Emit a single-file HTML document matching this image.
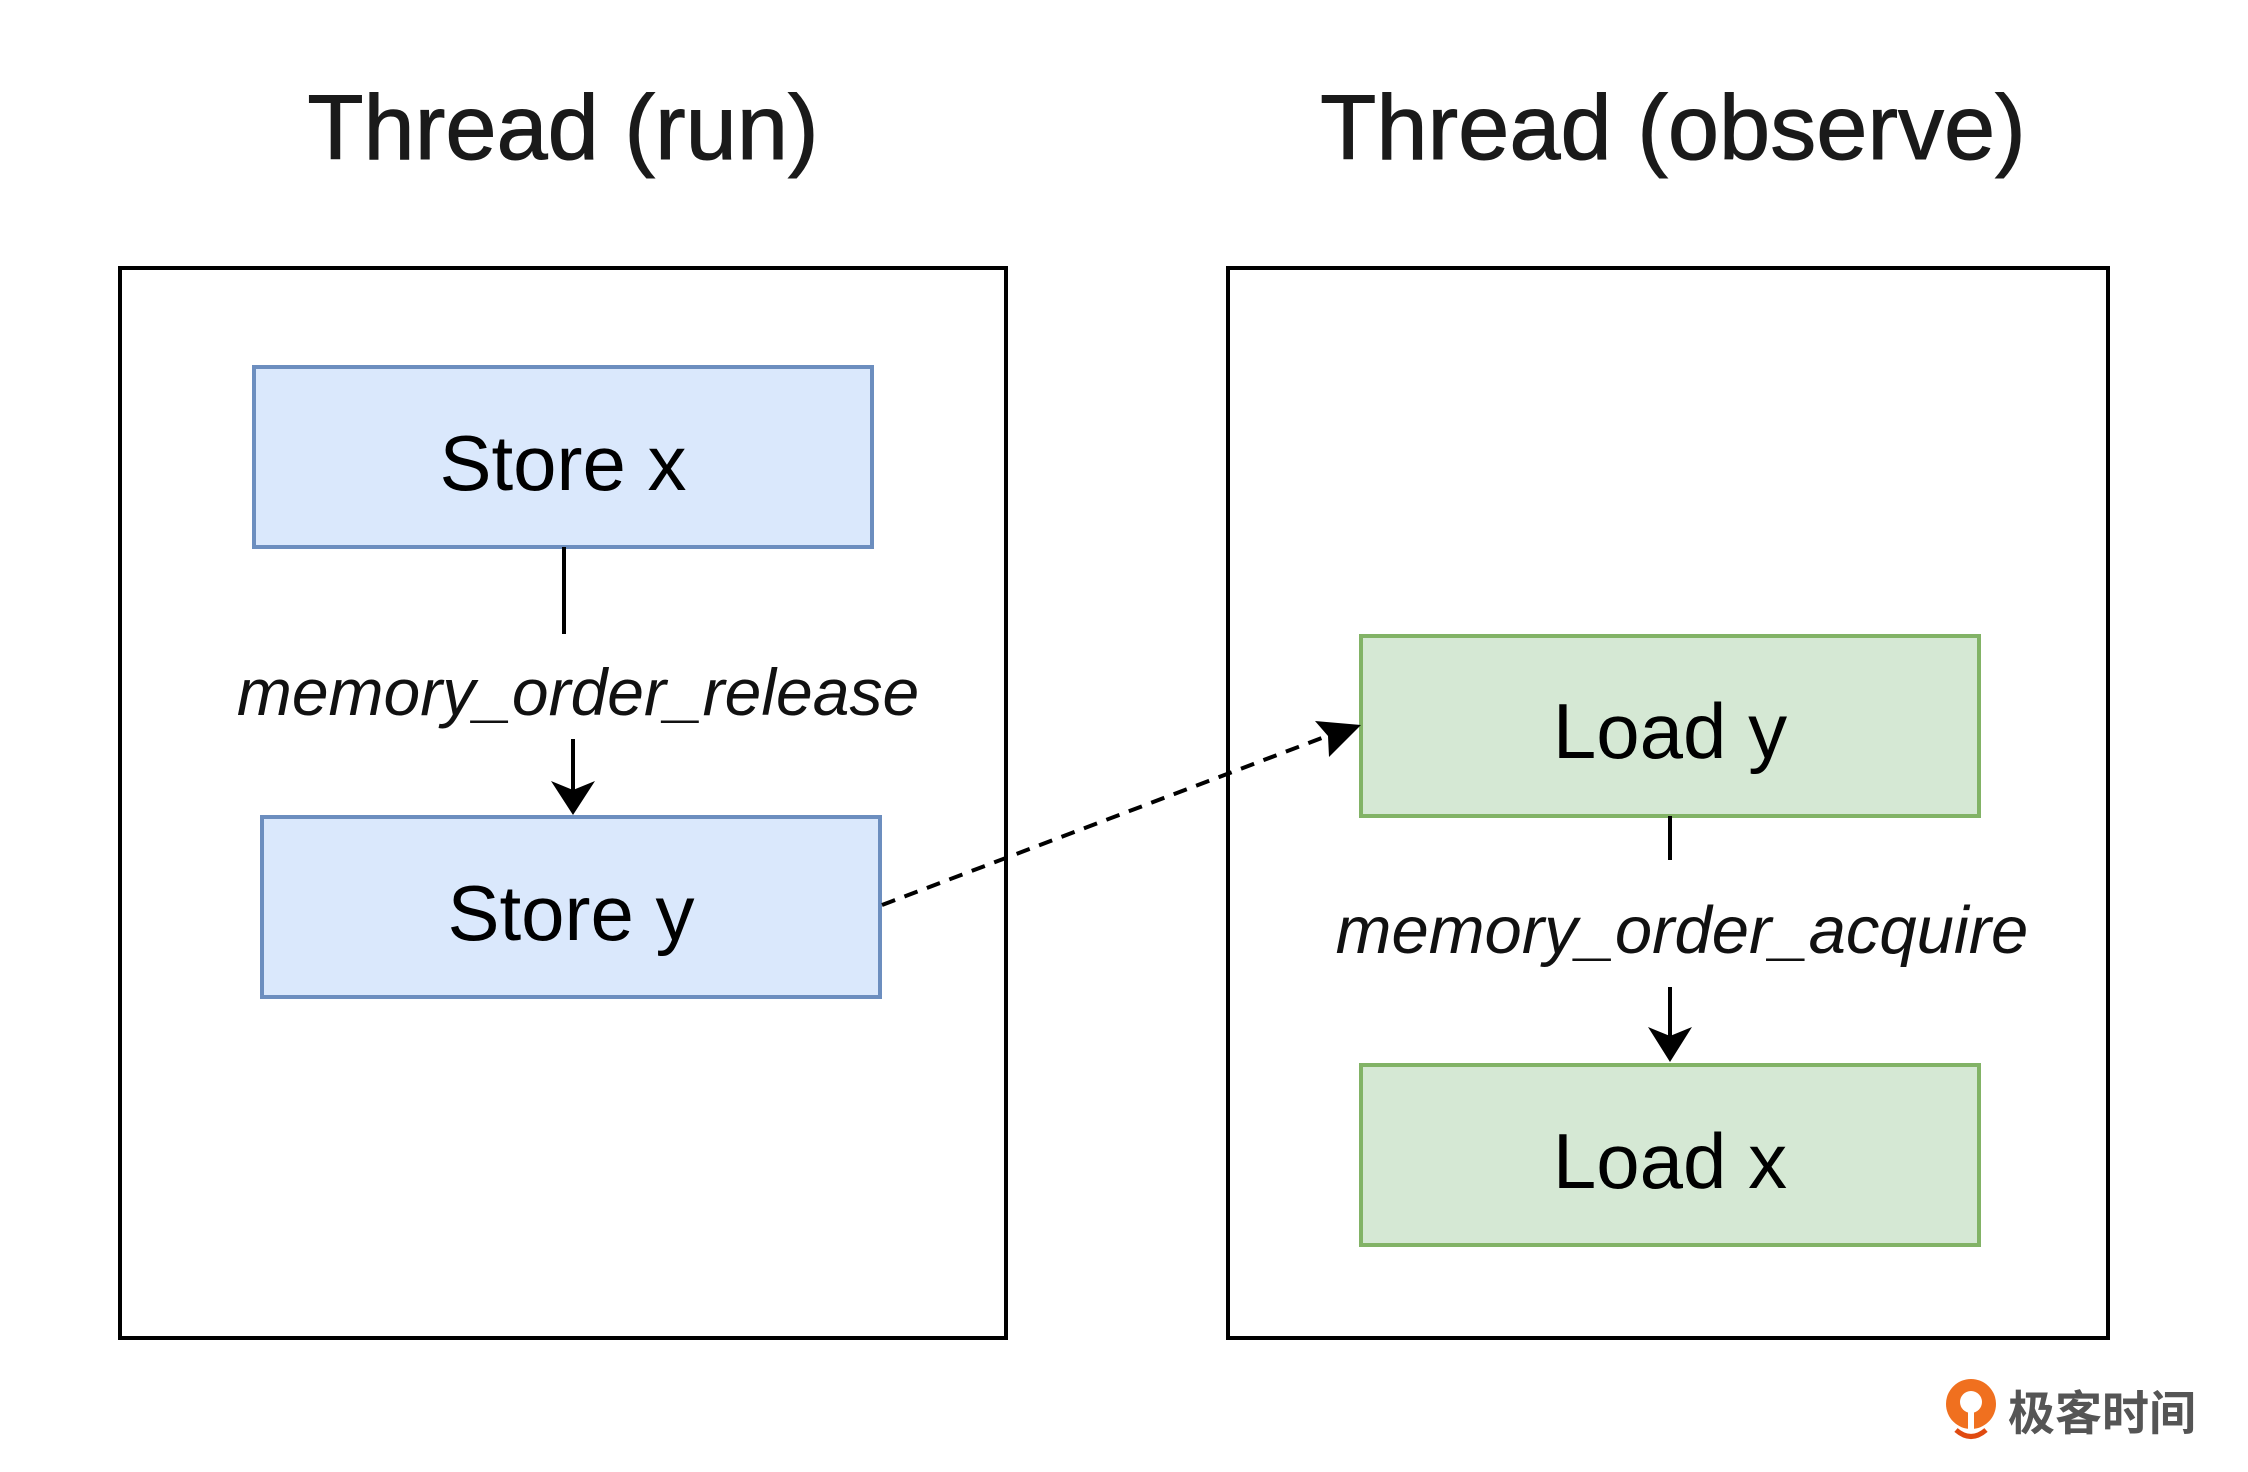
<!DOCTYPE html>
<html><head><meta charset="utf-8"><style>
html,body{margin:0;padding:0;background:#fff;}
body{width:2248px;height:1467px;overflow:hidden;}
</style></head><body>
<svg width="2248" height="1467" viewBox="0 0 2248 1467" xmlns="http://www.w3.org/2000/svg" font-family="Liberation Sans, Arial, sans-serif">
<rect width="2248" height="1467" fill="#fff"/>
<text x="563" y="159" font-size="92" text-anchor="middle" fill="#1a1a1a" stroke="#1a1a1a" stroke-width="1">Thread (run)</text>
<text x="1673" y="159" font-size="92" text-anchor="middle" fill="#1a1a1a" stroke="#1a1a1a" stroke-width="1">Thread (observe)</text>
<rect x="120" y="268" width="886" height="1070" fill="none" stroke="#000" stroke-width="4"/>
<rect x="1228" y="268" width="880" height="1070" fill="none" stroke="#000" stroke-width="4"/>
<rect x="254" y="367" width="618" height="180" fill="#dae8fc" stroke="#6c8ebf" stroke-width="4"/>
<text x="563" y="490" font-size="78" text-anchor="middle" fill="#000">Store x</text>
<rect x="262" y="817" width="618" height="180" fill="#dae8fc" stroke="#6c8ebf" stroke-width="4"/>
<text x="571" y="940" font-size="78" text-anchor="middle" fill="#000">Store y</text>
<line x1="564" y1="547" x2="564" y2="634" stroke="#000" stroke-width="4"/>
<text x="578" y="715" font-size="66" font-style="italic" text-anchor="middle" fill="#111">memory_order_release</text>
<line x1="573" y1="739" x2="573" y2="790" stroke="#000" stroke-width="4"/>
<polygon points="551,781 573,815 595,781 573,790" fill="#000"/>
<rect x="1361" y="636" width="618" height="180" fill="#d5e8d4" stroke="#82b366" stroke-width="4"/>
<text x="1670" y="758" font-size="78" text-anchor="middle" fill="#000">Load y</text>
<rect x="1361" y="1065" width="618" height="180" fill="#d5e8d4" stroke="#82b366" stroke-width="4"/>
<text x="1670" y="1188" font-size="78" text-anchor="middle" fill="#000">Load x</text>
<line x1="1670" y1="816" x2="1670" y2="860" stroke="#000" stroke-width="4"/>
<text x="1682" y="953" font-size="67" font-style="italic" text-anchor="middle" fill="#111">memory_order_acquire</text>
<line x1="1670" y1="987" x2="1670" y2="1036" stroke="#000" stroke-width="4"/>
<polygon points="1648,1027 1670,1062 1692,1027 1670,1036" fill="#000"/>
<line x1="882" y1="905" x2="1335" y2="733" stroke="#000" stroke-width="4" stroke-dasharray="14,10"/>
<polygon points="1361,725 1315,721 1328,736 1329,757" fill="#000"/>
<g transform="translate(1942,1380)">
<circle cx="29" cy="24" r="25" fill="#f0701f"/>
<circle cx="29" cy="22" r="11" fill="#fff"/>
<path d="M29 30 L29 50" stroke="#fff" stroke-width="6"/>
<path d="M14 50 Q29 63 44 50" stroke="#e04a10" stroke-width="5" fill="none"/>
<text x="66" y="50" font-size="47" font-weight="bold" fill="#555" font-family="Liberation Sans, Noto Sans CJK SC, sans-serif">极客时间</text>
</g>
</svg>
</body></html>
